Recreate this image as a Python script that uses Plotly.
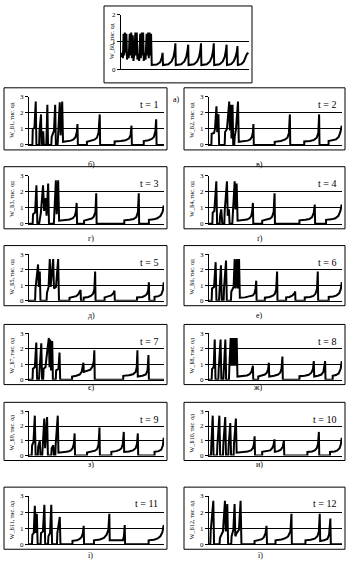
import plotly.graph_objects as go

W, H = 352, 571

# ---------------- data (x in % of the time span, y in value units) ----------------
a_pts = [(0,0.45),(1,0.6),(1.5,0.4),(2,1.3),(2.5,0.5),(3,1.35),(3.5,0.6),(4.2,1.3),(4.7,0.35),(5.5,0.6),(6,0.4),
         (6.8,1.3),(7.3,0.5),(8,1.35),(8.5,0.4),(9.2,1.25),(9.7,0.3),(10.5,0.6),(11.2,1.35),(11.7,0.5),(12.3,1.35),
         (12.8,0.35),(13.5,0.55),(14.2,0.3),(15,1.3),(15.5,0.4),(16.2,1.35),(16.7,0.5),(17.3,1.35),(17.8,0.3),
         (18.5,0.6),(19.2,0.35),(20,1.3),(20.5,0.5),(21.2,1.35),(21.7,0.4),(22.3,1.35),(22.8,0.5),(23.5,1.3),(24,0.15),
         (28,0.17),(30.5,0.25),(31.8,0.4),(32.5,0.6),(32.8,0.15),(37,0.18),(39.5,0.28),(41,0.45),(42,0.7),(42.5,0.95),
         (42.8,0.15),(47,0.18),(49.5,0.28),(51,0.45),(52,0.7),(52.5,0.9),(52.8,0.15),(57,0.18),(59.5,0.28),(61,0.45),
         (62,0.7),(62.5,0.95),(62.8,0.15),(67,0.18),(69.5,0.28),(71,0.45),(72,0.7),(72.5,0.95),(72.8,0.15),(77,0.18),
         (79.5,0.28),(81,0.45),(82,0.7),(82.5,0.9),(82.8,0.15),(86,0.18),(88,0.28),(89.5,0.45),(90.5,0.65),(91,0.85),
         (91.3,0.15),(94,0.18),(96,0.28),(97.5,0.45),(98.3,0.55),(99.5,0.6)]

t1_pts = [(0,0),(2.5,0),(2.8,1.0),(4.0,1.05),(5.0,2.7),(5.5,0),(7.5,0),(7.8,0.9),(8.9,1.9),(9.3,0),(10.2,0),(10.5,0.85),
          (11,0),(12.8,0),(13.1,0.9),(13.6,2.5),(14.1,0),(16.5,0),(16.8,0.5),(18.5,0.9),(19.4,2.5),(19.9,0),(21.2,0),
          (21.5,0.5),(22.3,1.0),(22.8,2.65),(23.4,0.6),(24.6,2.7),(25.2,0.2),(28,0.22),(31,0.27),(33,0.35),(34.5,0.5),
          (35.4,0.8),(35.9,1.3),(36.2,0),(42.9,0),(42.9,0.2),(46,0.25),(48.5,0.33),(50.3,0.45),(51.5,0.75),(52.4,1.9),
          (52.7,0),(63.4,0),(63.4,0.22),(68,0.25),(71.5,0.3),(74,0.4),(75.2,0.6),(75.9,1.2),(76.2,0),(85,0),(85,0.25),
          (88.5,0.3),(91,0.38),(92.5,0.5),(93.6,0.85),(94.2,1.6),(94.5,0),(100,0)]

t2_pts = [(0,0),(1.8,0),(2.0,0.7),(3.8,0.75),(4.5,1.0),(5.6,2.4),(6.2,0.8),(7.1,1.9),(7.6,0),(11.8,0),(12.1,0.8),
          (13.5,1.0),(15.2,2.7),(15.7,0.9),(16.5,2.5),(16.9,0.4),(17.7,2.5),(18.2,0),(19,0),(19.3,0.5),(20.3,1.0),
          (21.8,2.7),(22.4,0.2),(26,0.22),(29,0.27),(31,0.35),(32.3,0.5),(33,0.8),(33.4,1.3),(33.7,0),(49.4,0),
          (49.4,0.2),(54,0.25),(57,0.33),(59,0.45),(60.1,0.75),(60.8,1.9),(61.1,0),(71.6,0),(71.6,0.22),(76,0.25),
          (79,0.32),(81,0.45),(82.2,0.75),(82.8,1.9),(83.1,0),(89.9,0),(89.9,0.25),(93,0.28),(95.5,0.35),(97.5,0.5),
          (98.8,0.8),(99.8,1.2)]

t3_pts = [(0,0),(2.7,0),(3.0,0.6),(4.5,0.7),(5.5,2.4),(6.2,0),(7.5,0),(8.8,0.7),(10.4,2.4),(11.2,0.8),(12.4,1.6),
          (13,0.5),(14.2,2.5),(14.8,0),(18.4,0),(18.7,0.6),(19.9,2.7),(20.5,0.6),(21.6,2.7),(22.3,0.2),(26.5,0.22),
          (30,0.27),(32.5,0.35),(34,0.5),(34.8,0.8),(35.3,1.3),(35.6,0),(40.8,0),(40.8,0.2),(44,0.25),(46.5,0.33),
          (48,0.45),(49.2,0.75),(49.8,1.9),(50.1,0),(70.6,0),(70.6,0.22),(74.5,0.25),(77.5,0.3),(79.5,0.42),
          (80.7,0.75),(81.3,1.9),(81.6,0),(88.8,0),(88.8,0.25),(92.5,0.28),(95,0.35),(97.5,0.5),(99,0.75),(99.8,1.15)]

t4_pts = [(0,0),(2.5,0),(2.8,0.7),(4,0.8),(5.5,2.65),(6.1,0),(8,0),(8.3,0.5),(9.2,0.9),(10,0),(11.5,0),(11.8,0.8),
          (13.5,2.65),(14.1,0.5),(15,0.9),(15.5,0),(17.5,0),(17.8,0.6),(19.3,2.65),(19.9,0.9),(20.8,2.5),(21.5,0.2),
          (25,0.22),(28.5,0.27),(30.5,0.35),(31.8,0.5),(32.5,0.8),(33,1.3),(33.3,0),(40,0),(40,0.2),(43.5,0.25),
          (46,0.33),(47.5,0.45),(48.6,0.75),(49.3,1.9),(49.6,0),(68,0),(68,0.22),(72.5,0.25),(75.5,0.3),(77.5,0.42),
          (78.8,0.7),(79.5,1.2),(79.8,0),(88,0),(88,0.25),(92,0.28),(95,0.35),(97.3,0.5),(98.8,0.8),(99.8,1.2)]

t5_pts = [(0,0),(4.5,0),(4.8,0.8),(6.7,2.35),(7.2,0.9),(8,1.9),(8.5,0),(13,0),(13.3,0.5),(14.5,0.9),(15.4,2.7),
          (16,0.9),(17.9,2.7),(18.5,0.8),(20,0.9),(21.6,2.7),(22.2,0),(30,0),(30,0.2),(33,0.25),(35,0.3),(36.5,0.42),
          (37.5,0.6),(38.2,0.7),(38.5,0),(40.5,0),(40.5,0.2),(44,0.25),(46,0.33),(47.5,0.45),(48.4,0.75),(49,1.9),
          (49.3,0),(56,0),(56,0.22),(59,0.27),(61,0.35),(62.5,0.5),(63.3,0.65),(63.6,0),(80,0),(80,0.22),(84,0.25),
          (86,0.33),(87.5,0.45),(88.3,0.7),(88.8,1.2),(89.1,0),(93,0),(93,0.25),(96,0.3),(98,0.4),(99.2,0.7),(99.8,1.2)]

t6_pts = [(0,0),(2,0),(2.3,0.8),(3.8,0.9),(5,2.5),(5.6,0),(7.5,0),(7.8,0.7),(9,2.3),(9.6,0),(11,0),(11.3,0.8),
          (12.8,2.6),(13.4,0),(16.5,0),(16.8,0.6),(18.5,0.9),(19.3,2.7),(19.9,0.8),(21,2.7),(21.6,0.8),(22.6,2.7),
          (23.2,0.2),(27,0.22),(30.5,0.27),(33,0.35),(34.3,0.5),(35,0.8),(35.5,1.3),(35.8,0),(42,0),(42,0.2),
          (45.5,0.25),(48,0.33),(49.5,0.45),(50.5,0.75),(51.2,1.9),(51.5,0),(58,0),(58,0.22),(60.5,0.25),(62.5,0.33),
          (64,0.45),(64.8,0.6),(65,0),(72,0),(72,0.22),(76,0.25),(78.5,0.32),(80,0.45),(81.2,0.75),(81.8,1.9),
          (82.1,0),(90,0),(90,0.25),(93.5,0.28),(96,0.35),(98,0.5),(99.2,0.8),(99.8,1.2)]

t7_pts = [(0,0),(2.6,0),(2.9,0.7),(4.3,0.8),(5.4,2.4),(6,0),(7.4,0),(7.7,0.6),(9.1,2.35),(9.7,0),(10.5,0),(10.8,0.7),
          (12.2,0.8),(12.8,1.3),(14.7,2.7),(15.2,0.8),(15.7,2.6),(16.3,0.6),(17.2,2.5),(17.7,0),(19.8,0),(20.1,0.6),
          (21.8,0.7),(22.6,1.75),(23.1,0),(31.9,0),(31.9,0.2),(35,0.25),(37.5,0.33),(39,0.5),(40.3,1.1),(40.6,0.5),
          (43,0.55),(45.5,0.65),(47,0.85),(48,1.2),(48.4,1.9),(48.7,0),(69.8,0),(69.8,0.25),(74,0.28),(77,0.35),
          (79,0.5),(79.8,0.8),(80.3,1.9),(80.6,0.2),(84,0.25),(86.5,0.33),(87.8,0.6),(88.5,1.6),(88.8,0),(100,0)]

t8_pts = [(0,0),(2,0),(2.3,0.7),(3.5,0.8),(4.3,2.6),(4.9,0),(7,0),(7.3,0.7),(8.7,2.6),(9.3,0),(10.8,0),(11.1,0.8),
          (12.3,2.6),(12.9,0),(15,0),(15.3,0.8),(16.3,2.7),(16.8,0.9),(17.8,2.7),(18.3,0.9),(19.3,2.7),(19.8,0.9),
          (20.8,2.7),(21.4,0.2),(25,0.22),(28.5,0.27),(30.5,0.35),(31.8,0.5),(32.5,0.7),(33,0.9),(33.3,0),(37,0),
          (37,0.2),(40,0.25),(42,0.33),(43.5,0.45),(44.5,0.7),(45,1.1),(45.3,0.2),(49,0.25),(52,0.33),(53.5,0.45),
          (54.5,0.7),(55.2,1.5),(55.5,0),(68,0),(68,0.22),(72,0.25),(75,0.32),(77,0.45),(78.2,0.7),(78.8,1.2),
          (79.1,0.2),(82,0.25),(84.5,0.33),(86,0.5),(86.8,0.8),(87.3,1.2),(87.6,0),(93,0),(93,0.25),(95.5,0.3),
          (97.5,0.4),(99,0.7),(99.8,1.2)]

t9_pts = [(0,0),(2,0),(2.3,0.7),(3.3,0.9),(4.3,2.7),(4.9,0),(6.5,0),(6.8,0.6),(8,1.0),(8.5,0),(9.8,0),(10.1,0.8),
          (11.3,2.5),(11.9,0.5),(13.4,2.6),(14,0),(16.5,0),(16.8,0.5),(18,0.7),(18.5,0),(19.5,0),(19.8,0.8),(21.3,2.7),
          (21.8,0.2),(25.5,0.22),(29,0.27),(31,0.35),(32.3,0.5),(33.2,0.8),(33.8,1.5),(34.1,0),(43,0),(43,0.2),
          (46.5,0.25),(49,0.33),(50.5,0.45),(51.5,0.75),(52.2,1.9),(52.5,0),(61,0),(61,0.25),(64.5,0.3),(67,0.38),
          (68.5,0.5),(69.5,0.8),(70.2,1.6),(70.5,0.25),(74,0.28),(77,0.35),(79,0.5),(80,0.8),(80.6,1.5),(80.9,0),
          (93,0),(93,0.25),(96,0.3),(98,0.4),(99.2,0.7),(99.8,1.2)]

t10_pts = [(0,0),(1.5,0),(1.8,0.8),(2.8,2.7),(3.4,0),(6,0),(6.3,0.7),(7.8,2.7),(8.4,0),(10.5,0),(10.8,0.8),(12.2,2.6),
           (12.8,0),(14.5,0),(14.8,0.7),(16,2.2),(16.6,0),(18.5,0),(18.8,0.8),(20.2,2.5),(20.8,0.2),(25,0.22),
           (29,0.27),(31.5,0.35),(33,0.5),(33.8,0.8),(34.3,1.3),(34.6,0),(40,0),(40,0.25),(43.5,0.28),(46,0.35),
           (47.5,0.5),(48.5,0.7),(49.2,1.1),(49.5,0.25),(52,0.3),(54,0.4),(55.5,0.6),(56.3,1.0),(56.6,0),(74,0),
           (74,0.25),(77.5,0.28),(79.5,0.35),(81,0.5),(82,0.8),(82.6,1.6),(82.9,0),(91,0),(91,0.25),(94.5,0.28),
           (96.5,0.35),(98.2,0.5),(99.2,0.8),(99.8,1.2)]

t11_pts = [(0,0),(2.2,0),(2.5,0.6),(3.5,0.7),(4.3,2.4),(4.9,0.7),(5.8,1.9),(6.4,0),(8.6,0),(8.9,0.7),(10.3,0.8),
           (11.4,2.45),(12,0),(14.1,0),(14.4,0.5),(15.6,0.7),(16.5,2.45),(17.1,0),(20.7,0),(21,0.7),(22.8,1.7),
           (23.3,0),(32.2,0),(32.2,0.22),(35.5,0.25),(37.5,0.33),(39,0.45),(39.9,0.7),(40.5,1.15),(40.8,0),(48.1,0),
           (48.1,0.25),(52.5,0.3),(55.5,0.4),(57.5,0.6),(58.8,0.9),(59.5,1.9),(59.8,0.25),(69.6,0.25),(70.3,0.5),
           (70.9,1.2),(71.2,0),(88.6,0),(88.6,0.25),(92.5,0.28),(95,0.35),(97.3,0.5),(98.8,0.75),(99.8,1.2)]

t12_pts = [(0,0),(1,0),(1.25,0.8),(2.2,1.8),(3.25,2.7),(3.8,0),(7.9,0),(8.25,0.4),(9.5,0.7),(10.5,0.8),(12,2.7),
           (12.6,0.8),(13.75,2.5),(14.4,0),(16.7,0),(17,0.5),(18.3,0.9),(19.25,2.5),(19.8,0.5),(20.75,0.7),
           (22.5,0.9),(23.75,2.7),(24.4,0),(34.25,0),(34.25,0.2),(37.5,0.25),(39.8,0.32),(41.3,0.45),(42.5,0.7),
           (43.25,1.15),(43.6,0),(50,0),(50,0.25),(54.5,0.3),(57.5,0.38),(59.5,0.5),(61.2,0.8),(62,1.9),(62.3,0),
           (72.5,0),(72.5,0.25),(76.5,0.28),(79.5,0.35),(81.5,0.5),(82.6,0.8),(83.25,1.9),(83.6,0.2),(86.5,0.25),
           (89,0.33),(90.3,0.6),(91.25,1.6),(91.6,0),(100,0)]

series = [a_pts, t1_pts, t2_pts, t3_pts, t4_pts, t5_pts, t6_pts,
          t7_pts, t8_pts, t9_pts, t10_pts, t11_pts, t12_pts]
panel_letters = ["а)", "б)", "в)", "г)", "ґ)", "д)", "е)", "є)", "ж)", "з)", "и)", "і)", "ї)"]
y_titles = ["W_Б0, тис. од"] + ["W_Б%d, тис. од" % i for i in range(1, 13)]
t_texts = [None] + ["t = %d" % i for i in range(1, 13)]
y_max = [2] + [3] * 12

# ---------------- layout geometry (pixels) ----------------
row_tops = [85, 165, 245, 325, 404, 490]
row_bots = [148, 228, 306, 386, 463, 553]
label_ys = [156, 238, 316, 396, 474, 566]

boxes = [(104, 2, 252, 80)]
plots = [(121, 11, 249, 66)]
labels = [(176, 90)]
for r in range(6):
    for c in range(2):
        bl, br = (4, 167) if c == 0 else (184, 345)
        bt, bb = row_tops[r], row_bots[r]
        boxes.append((bl, bt, br, bb))
        plots.append((bl + 25, bt + 9, br - 3, bb - 5))
        labels.append(((bl + br) / 2, label_ys[r]))

FONT = "Liberation Serif"
fig = go.Figure()
layout = dict(width=W, height=H, margin=dict(l=0, r=0, t=0, b=0),
              paper_bgcolor="white", plot_bgcolor="white", showlegend=False)
shapes, annotations = [], []

def px(x):
    return x / W

def py(y):
    return 1 - y / H

for i, pts in enumerate(series):
    n = i + 1
    xs = [p[0] for p in pts]
    ys = [p[1] for p in pts]
    xa = "x" if n == 1 else "x%d" % n
    ya = "y" if n == 1 else "y%d" % n
    fig.add_trace(go.Scatter(x=xs, y=ys, mode="lines", xaxis=xa, yaxis=ya,
                             line=dict(color="black", width=2), hoverinfo="skip"))
    l, t, r, b = plots[i]
    xkey = "xaxis" if n == 1 else "xaxis%d" % n
    ykey = "yaxis" if n == 1 else "yaxis%d" % n
    layout[xkey] = dict(domain=[px(l), px(r)], range=[0, 100], showgrid=False, zeroline=False,
                        showline=True, linecolor="black", linewidth=1, showticklabels=False,
                        ticks="", anchor=ya, fixedrange=True)
    layout[ykey] = dict(domain=[py(b), py(t)], range=[0, y_max[i]],
                        tickvals=list(range(0, y_max[i] + 1)), showgrid=True, gridcolor="black",
                        gridwidth=1, zeroline=False, showline=True, linecolor="black", linewidth=1,
                        ticks="outside", ticklen=3, tickcolor="black",
                        tickfont=dict(family=FONT, size=7, color="black"), anchor=xa, fixedrange=True)
    bl, bt, br, bb = boxes[i]
    shapes.append(dict(type="rect", xref="paper", yref="paper", x0=px(bl), x1=px(br),
                       y0=py(bb), y1=py(bt), line=dict(color="black", width=1)))
    annotations.append(dict(xref="paper", yref="paper", x=px(bl + 8), y=py((t + b) / 2),
                            xanchor="center", yanchor="middle",
                            text=y_titles[i], textangle=-90, showarrow=False,
                            font=dict(family=FONT, size=6, color="black")))
    if t_texts[i]:
        annotations.append(dict(xref="paper", yref="paper", x=px(r - 4), y=py(t + 8),
                                xanchor="right", yanchor="middle", text=t_texts[i], showarrow=False,
                                font=dict(family=FONT, size=10, color="black")))
    lx, ly = labels[i]
    annotations.append(dict(xref="paper", yref="paper", x=px(lx), y=py(ly), text=panel_letters[i],
                            showarrow=False, font=dict(family=FONT, size=8, color="black")))

layout["shapes"] = shapes
layout["annotations"] = annotations
fig.update_layout(**layout)
fig.write_html("out.html")
